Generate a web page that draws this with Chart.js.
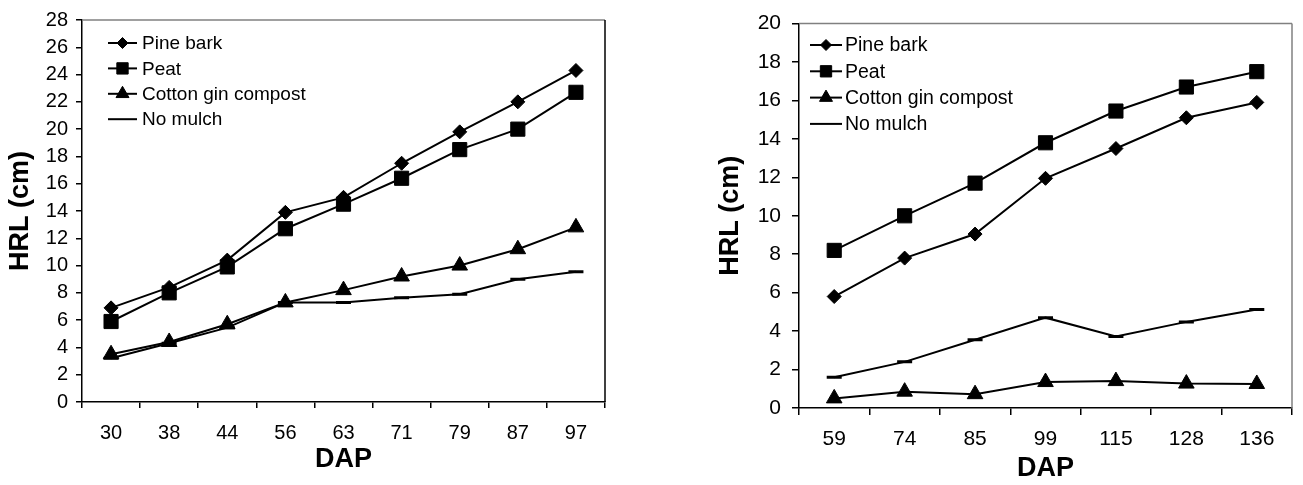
<!DOCTYPE html>
<html>
<head>
<meta charset="utf-8">
<script src="https://cdn.jsdelivr.net/npm/chart.js@4.4.1/dist/chart.umd.min.js"></script>
<style>
  html, body { margin: 0; padding: 0; background: #fff; }
  #wrap { position: relative; width: 1303px; height: 485px; }
  .box { position: absolute; top: 0; height: 485px; }
  #boxA { left: 0; width: 650px; }
  #boxB { left: 690px; width: 613px; }
</style>
</head>
<body>
<div id="wrap">
  <div class="box" id="boxA"><canvas id="chartA"></canvas></div>
  <div class="box" id="boxB"><canvas id="chartB"></canvas></div>
</div>
<script>
// Left panel: days after planting and HRL (cm) per mulch treatment
const daysA = ['30', '38', '44', '56', '63', '71', '79', '87', '97'];
const pineBarkA = [6.9, 8.4, 10.4, 13.9, 15.0, 17.5, 19.8, 22.0, 24.3];
const peatA = [5.9, 8.0, 9.9, 12.7, 14.5, 16.4, 18.5, 20.0, 22.7];
const cottonGinA = [3.5, 4.4, 5.7, 7.3, 8.2, 9.2, 10.0, 11.2, 12.8];
const noMulchA = [3.2, 4.3, 5.45, 7.3, 7.3, 7.65, 7.9, 9.0, 9.55];

// Right panel
const daysB = ['59', '74', '85', '99', '115', '128', '136'];
const pineBarkB = [5.8, 7.8, 9.05, 11.95, 13.5, 15.1, 15.9];
const peatB = [8.2, 10.0, 11.7, 13.8, 15.45, 16.7, 17.5];
const cottonGinB = [0.5, 0.85, 0.72, 1.35, 1.4, 1.27, 1.25];
const noMulchB = [1.6, 2.4, 3.55, 4.7, 3.72, 4.48, 5.12];

const seriesNames = ['Pine bark', 'Peat', 'Cotton gin compost', 'No mulch'];

const FONT = "'Liberation Sans', Arial, Helvetica, sans-serif";

// Legend drawn inside the plot area, Excel style (line sample with marker)
const insideLegend = {
  id: 'insideLegend',
  afterDatasetsDraw(chart, args, opts) {
    const ctx = chart.ctx;
    ctx.save();
    ctx.font = opts.fontSize + 'px ' + FONT;
    ctx.textBaseline = 'middle';
    ctx.textAlign = 'left';
    chart.data.datasets.forEach((ds, i) => {
      const y = opts.y + i * opts.rowGap;
      ctx.strokeStyle = '#000';
      ctx.fillStyle = '#000';
      ctx.lineWidth = 2;
      ctx.beginPath();
      ctx.moveTo(opts.x, y);
      ctx.lineTo(opts.x + opts.sample, y);
      ctx.stroke();
      if (ds.pointStyle !== 'line') {
        ctx.lineWidth = 1;
        Chart.helpers.drawPoint(ctx, {
          pointStyle: ds.pointStyle,
          radius: opts.radius[ds.pointStyle],
          borderWidth: 1,
          rotation: 0
        }, opts.x + opts.sample / 2, y);
      }
      ctx.fillStyle = '#000';
      ctx.fillText(ds.label, opts.x + opts.sample + opts.gap, y + 1);
    });
    ctx.restore();
  }
};

// Top and right edges of the plot area
const plotFrame = {
  id: 'plotFrame',
  beforeDatasetsDraw(chart, args, opts) {
    const a = chart.chartArea;
    const ctx = chart.ctx;
    ctx.save();
    ctx.lineWidth = 1.5;
    ctx.strokeStyle = opts.topColor;
    ctx.beginPath();
    ctx.moveTo(a.left, a.top);
    ctx.lineTo(a.right, a.top);
    ctx.stroke();
    ctx.strokeStyle = opts.rightColor;
    ctx.beginPath();
    ctx.moveTo(a.right, a.top);
    ctx.lineTo(a.right, a.bottom);
    ctx.stroke();
    ctx.restore();
  }
};

function buildDatasets(pine, peat, cotton, none) {
  const common = { borderColor: '#000', backgroundColor: '#000', borderWidth: 2, tension: 0,
                   pointBorderColor: '#000', pointBackgroundColor: '#000' };
  return [
    Object.assign({ label: seriesNames[0], data: pine, pointStyle: 'rectRot', pointRadius: 7, pointBorderWidth: 1 }, common),
    Object.assign({ label: seriesNames[1], data: peat, pointStyle: 'rect', pointRadius: 10, pointBorderWidth: 1 }, common),
    Object.assign({ label: seriesNames[2], data: cotton, pointStyle: 'triangle', pointRadius: 9, pointBorderWidth: 1 }, common),
    Object.assign({ label: seriesNames[3], data: none, pointStyle: 'line', pointRadius: 7.5, pointBorderWidth: 3 }, common)
  ];
}

function makeChart(id, labels, datasets, c) {
  return new Chart(document.getElementById(id), {
    type: 'line',
    data: { labels: labels, datasets: datasets },
    plugins: [insideLegend, plotFrame],
    options: {
      responsive: true,
      maintainAspectRatio: false,
      animation: false,
      events: [],
      layout: { padding: { top: c.padTop, right: c.padRight, left: 0, bottom: 0 } },
      plugins: {
        legend: { display: false },
        tooltip: { enabled: false },
        insideLegend: c.legend,
        plotFrame: { topColor: '#808080', rightColor: c.rightColor }
      },
      scales: {
        x: {
          offset: true,
          grid: { offset: true, drawOnChartArea: false, tickLength: c.tickLen, color: '#000', lineWidth: 1.5 },
          border: { color: '#000', width: 1.5 },
          ticks: { color: '#000', font: { family: FONT, size: c.tickFont }, padding: c.xTickPad, maxRotation: 0 },
          title: { display: true, text: 'DAP', color: '#000',
                   font: { family: FONT, size: 27, weight: 'bold' },
                   padding: { top: 0, bottom: c.xTitlePad } },
          afterFit: s => { s.height = c.xAxisH; }
        },
        y: {
          min: 0,
          max: c.yMax,
          ticks: { stepSize: 2, color: '#000', font: { family: FONT, size: c.tickFont }, padding: c.yTickPad },
          grid: { drawOnChartArea: false, tickLength: c.tickLen, color: '#000', lineWidth: 1.5 },
          border: { color: '#000', width: 1.5 },
          title: { display: true, text: 'HRL (cm)', color: '#000',
                   font: { family: FONT, size: 27, weight: 'bold' },
                   padding: { top: c.yTitlePad, bottom: 0 } },
          afterFit: s => { s.width = c.yAxisW; }
        }
      }
    }
  });
}

makeChart('chartA', daysA, buildDatasets(pineBarkA, peatA, cottonGinA, noMulchA), {
  padTop: 15, padRight: 45, yAxisW: 82, xAxisH: 83, yMax: 28,
  tickLen: 6, tickFont: 20, xTickPad: 13, yTickPad: 8, xTitlePad: 9, yTitlePad: 4,
  rightColor: '#000',
  legend: { x: 108, y: 43, rowGap: 25.4, sample: 29, gap: 5, fontSize: 19,
            radius: { rectRot: 5.5, rect: 8, triangle: 7.5 } }
});

makeChart('chartB', daysB, buildDatasets(pineBarkB, peatB, cottonGinB, noMulchB), {
  padTop: 16, padRight: 6, yAxisW: 109, xAxisH: 77, yMax: 20,
  tickLen: 7, tickFont: 21, xTickPad: 12, yTickPad: 11, xTitlePad: 0, yTitlePad: 24,
  rightColor: '#808080',
  legend: { x: 120, y: 45, rowGap: 26.3, sample: 32, gap: 3, fontSize: 19.5,
            radius: { rectRot: 5.5, rect: 8, triangle: 7.5 } }
});
</script>
</body>
</html>
